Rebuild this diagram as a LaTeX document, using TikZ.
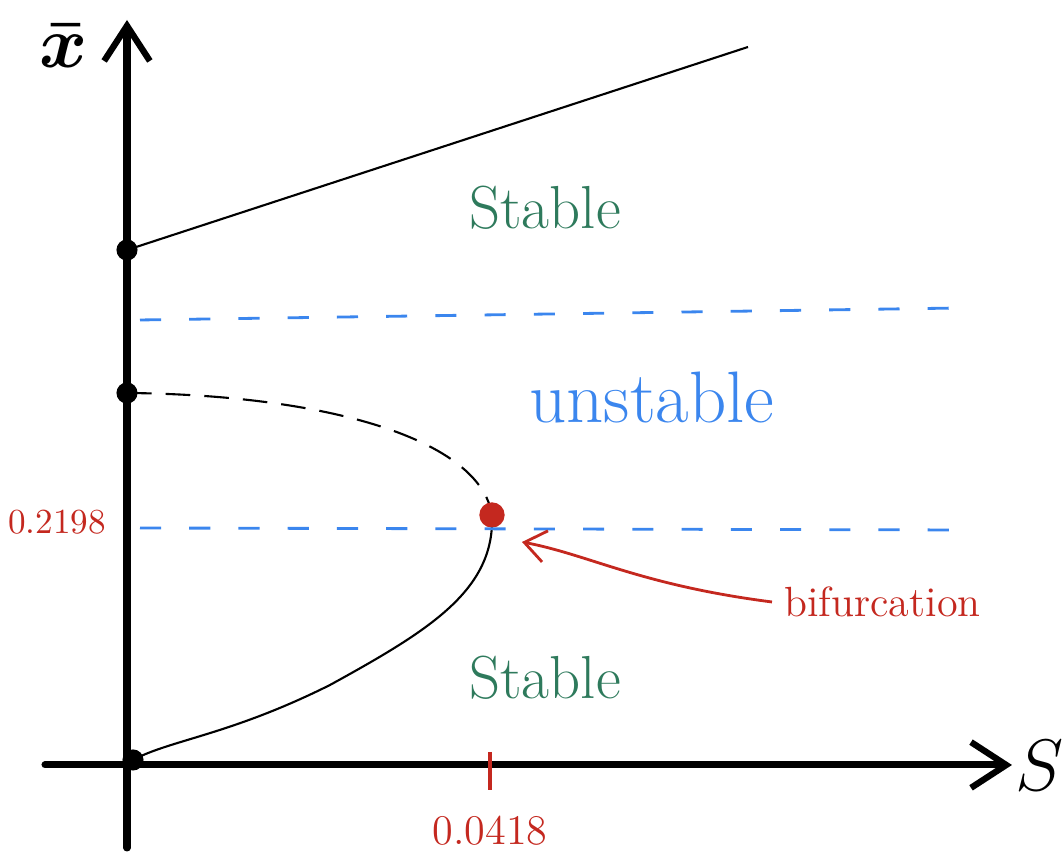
\documentclass[tikz,border=0pt]{standalone}
\definecolor{stablegreen}{HTML}{2E7A5C}
\definecolor{unstblue}{HTML}{3B86EE}
\definecolor{bifred}{HTML}{C4281F}
\usetikzlibrary{arrows.meta,positioning}

\begin{document}
\begin{tikzpicture}[x=0.01cm,y=-0.01cm,
  axis/.style={line width=2pt,line cap=round},
  branch/.style={line width=0.6pt},
  sep/.style={unstblue,line width=0.8pt,dash pattern=on 6pt off 8pt},
  barb/.style={-{Straight Barb[length=10pt,width=13pt,line width=1.8pt]}}]
\useasboundingbox (0,0) rectangle (1062,862);
\coordinate (Ybot) at (127,848);
\coordinate (Ytop) at (127,20);
\coordinate (Xleft) at (45,765);
\coordinate (Xright) at (1012,765);
\coordinate (A) at (127,250);
\coordinate (B) at (127,393);
\coordinate (C) at (133,760);
\coordinate (H) at (492,515);
\coordinate (Aend) at (748,47);
\draw[axis,barb] (Ybot) -- (Ytop);
\draw[axis,barb] (Xleft) -- (Xright);
\node[font=\huge\boldmath] (xbar) at (64,46) {$\bar{x}$};
\node[font=\huge] (slab) at (1040,766) {$S$};
% branches
\draw[branch] (A) -- (Aend);
\draw[branch,dash pattern=on 7pt off 4pt] (B) .. controls (330,395) and (480,440) .. (H);
\draw[branch] (H) .. controls (495,590) and (430,630) .. (330,685)
  .. controls (230,735) and (170,740) .. (C);
\foreach \c in {A,B,C} \fill (\c) circle (3pt);
\fill[bifred] (H) circle (3.6pt);
% stability boundaries
\draw[sep] (140,320) -- (960,308);
\draw[sep] (140,528) -- (960,530);
\node[text=stablegreen,font=\LARGE] (st1) at (545,208) {Stable};
\node[text=unstblue,font=\huge] (unst) at (652,398) {unstable};
\node[text=stablegreen,font=\LARGE] (st2) at (545,678) {Stable};
% critical values
\coordinate (T1) at (490,752);
\coordinate (T2) at (490,790);
\draw[bifred,line width=0.9pt] (T1) -- (T2);
\node[text=bifred,font=\large,below=4pt of T2] (zc) {0.0418};
\node[text=bifred,font=\normalsize] (xc) at (57,522) {0.2198};
\node[text=bifred,font=\large,anchor=west] (bif) at (772,602) {bifurcation};
\draw[bifred,line width=0.8pt,-{Straight Barb[length=6pt,width=9pt]}]
  (bif.west) .. controls (640,585) and (590,555) .. (522,542);
\end{tikzpicture}
\end{document}
